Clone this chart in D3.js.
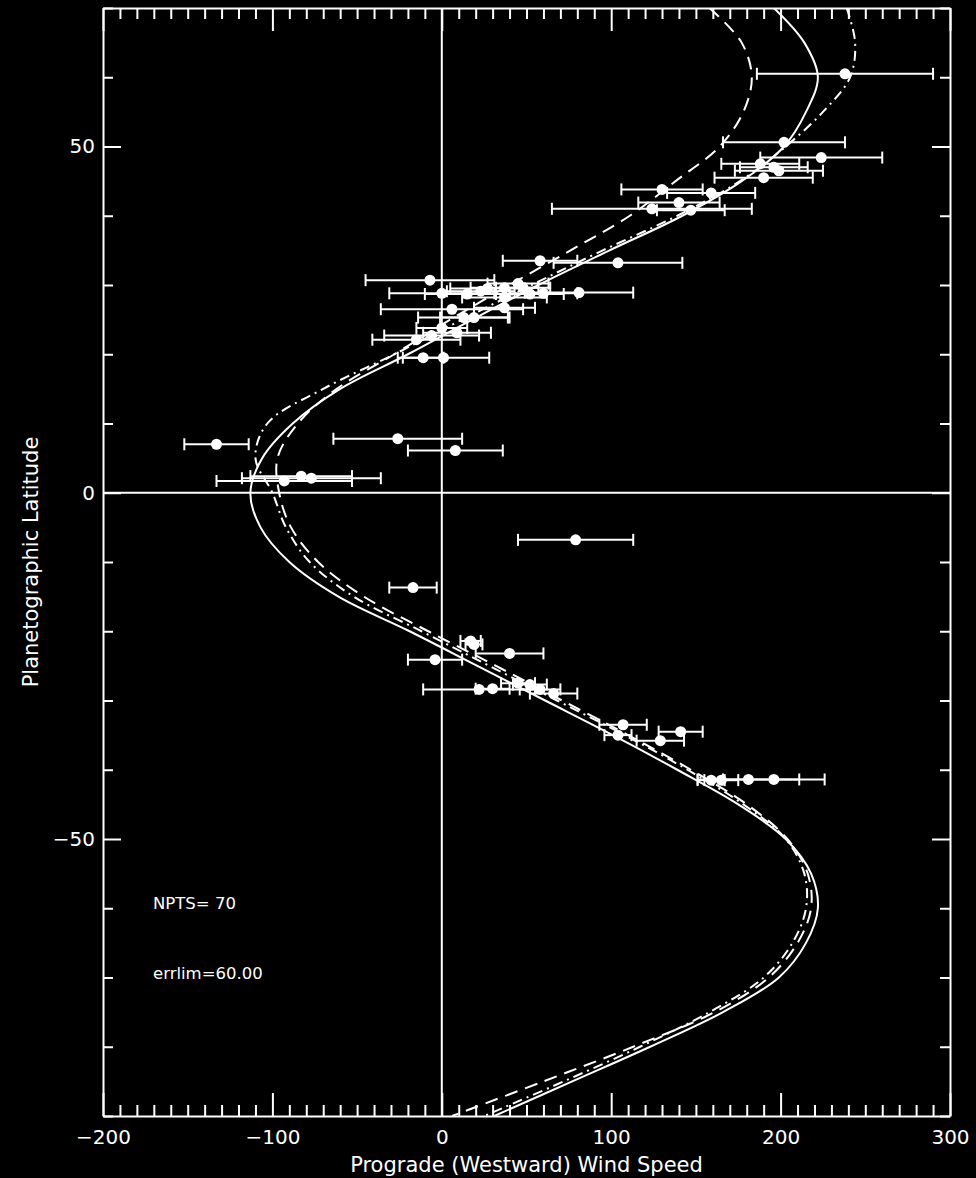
<!DOCTYPE html>
<html>
<head>
<meta charset="utf-8">
<script src="https://cdnjs.cloudflare.com/ajax/libs/d3/7.8.5/d3.min.js"></script>
<style>
  body { margin: 0; background: #000; }
  svg { display: block; background: #000; }
  .axis path, .axis line { stroke: #fff; stroke-width: 2; }
  .axis text { fill: #fff; font-family: "DejaVu Sans", sans-serif; font-size: 20px; }
  .label { fill: #fff; font-family: "DejaVu Sans", sans-serif; }
</style>
</head>
<body>
<script>
// measured wind points: latitude, westward speed and error half width
var pointLat = [60.5, 50.6, 48.4, 47.5, 46.5, 45.5, 47.0, 43.8, 43.3, 41.9, 41.0, 40.8,
  33.5, 33.2, 30.7, 28.9, 28.8, 28.8, 29.6, 30.2, 29.5, 26.7, 26.5, 25.3, 23.1, 22.7,
  22.1, 19.5, 19.5, 28.7, 29.1, 29.6, 28.7, 28.2, 25.3, 23.8,
  7.8, 6.1, 7.0, 2.1, 1.7, 2.4,
  -6.8, -13.7, -21.9, -21.4, -23.2, -24.1, -28.4, -28.3, -27.5, -27.7, -28.4, -29.0,
  -33.5, -35.0, -34.5, -35.8, -41.5, -41.5, -41.4, -41.4];
var pointWind = [238, 202, 224, 188, 199, 190, 196, 130, 159, 140, 124, 147,
  58, 104, -7, 81, 0, 60, 37, 45, 27, 37, 6, 13, 9, -6,
  -15, -11, 1, 15, 23, 48, 52, 37, 19, 0,
  -26, 8, -133, -77, -93, -83,
  79, -17, 19, 17, 40, -4, 22, 30, 45, 52, 58, 66,
  107, 104, 141, 129, 159, 165, 181, 196];
var pointErr = [52, 36, 36, 23, 26, 29, 20, 24, 26, 24, 59, 20,
  22, 38, 38, 32, 31, 20, 20, 18, 22, 18, 42, 27, 20, 28,
  26, 12, 27, 25, 20, 16, 20, 25, 20, 15,
  38, 28, 19, 41, 40, 30,
  34, 14, 5, 6, 20, 16, 33, 10, 10, 10, 12, 14,
  14, 8, 13, 14, 8, 10, 30, 30];

// fitted profiles, sampled every 5 degrees
var curveLat = [70, 65, 60, 55, 50, 45, 40, 35, 30, 25, 20, 15, 10, 5, 0, -5, -10, -15,
  -20, -25, -30, -35, -40, -45, -50, -55, -60, -65, -70, -75, -80, -85, -90];
var solidWind = [196, 214, 222, 215, 202, 177, 142, 99, 57, 18, -20, -60, -88, -106, -113, -107, -90, -61,
  -19, 21, 61, 101, 139, 175, 203, 218, 222, 215, 199, 166, 123, 77, 31];
var dashedWind = [158, 177, 183, 178, 164, 138, 111, 76, 40, 5, -28, -62, -85, -97, -96, -89, -73, -46,
  -8, 32, 71, 110, 147, 180, 204, 216, 218, 210, 193, 161, 113, 60, 6];
var dashDotWind = [239, 244, 241, 225, 203, 176, 139, 95, 53, 12, -28, -70, -103, -110, -100, -92, -78, -52,
  -12, 28, 68, 108, 145, 178, 203, 214, 215, 207, 190, 158, 117, 72, 25];

// tick values
var xTicks = d3.range(-200, 301, 10);
var xLabels = [-200, -100, 0, 100, 200, 300];
var yTicks = d3.range(-90, 71, 10);
var yLabels = [-50, 0, 50];

var totalWidth = 976;
var totalHeight = 1178;
var margin = {top: 8, right: 26, bottom: 62, left: 103};

var svg = d3.select("body").append("svg")
  .attr("width", totalWidth)
  .attr("height", totalHeight);

var xScale = d3.scaleLinear()
  .domain([-200, 300])
  .range([margin.left, totalWidth - margin.right]);

var yScale = d3.scaleLinear()
  .domain([-90, 70])
  .range([totalHeight - margin.bottom, margin.top]);

var plotLeft = xScale.range()[0], plotRight = xScale.range()[1];
var plotTop = yScale.range()[1], plotBottom = yScale.range()[0];

svg.append("clipPath").attr("id", "plot")
  .append("rect")
  .attr("x", plotLeft).attr("y", plotTop)
  .attr("width", plotRight - plotLeft).attr("height", plotBottom - plotTop);

// minor ticks every 10, longer ones on the labelled values
function isMajorX(d) { return d % 100 === 0; }
function isMajorY(d) { return d % 50 === 0; }

var bottomAxis = svg.append("g")
  .attr("class", "axis")
  .attr("transform", "translate(0," + plotBottom + ")")
  .call(d3.axisBottom(xScale).tickValues(xTicks).tickSize(-11).tickSizeOuter(0).tickPadding(14)
    .tickFormat(function(d) { return xLabels.indexOf(d) >= 0 ? d3.format("")(d) : ""; }));
bottomAxis.selectAll(".tick line").attr("y2", function(d) { return isMajorX(d) ? -23 : -11; });

var topAxis = svg.append("g")
  .attr("class", "axis")
  .attr("transform", "translate(0," + plotTop + ")")
  .call(d3.axisTop(xScale).tickValues(xTicks).tickSize(-11).tickSizeOuter(0).tickFormat(""));
topAxis.selectAll(".tick line").attr("y2", function(d) { return isMajorX(d) ? 23 : 11; });

var leftAxis = svg.append("g")
  .attr("class", "axis")
  .attr("transform", "translate(" + plotLeft + ",0)")
  .call(d3.axisLeft(yScale).tickValues(yTicks).tickSize(-10).tickSizeOuter(0).tickPadding(8)
    .tickFormat(function(d) { return yLabels.indexOf(d) >= 0 ? d3.format("")(d) : ""; }));
leftAxis.selectAll(".tick line").attr("x2", function(d) { return isMajorY(d) ? 18 : 10; });

var rightAxis = svg.append("g")
  .attr("class", "axis")
  .attr("transform", "translate(" + plotRight + ",0)")
  .call(d3.axisRight(yScale).tickValues(yTicks).tickSize(-10).tickSizeOuter(0).tickFormat(""));
rightAxis.selectAll(".tick line").attr("x2", function(d) { return isMajorY(d) ? -18 : -10; });

// zero lines
svg.append("line")
  .attr("x1", xScale(0)).attr("x2", xScale(0))
  .attr("y1", plotTop).attr("y2", plotBottom)
  .attr("stroke", "#fff").attr("stroke-width", 2);
svg.append("line")
  .attr("x1", plotLeft).attr("x2", plotRight)
  .attr("y1", yScale(0)).attr("y2", yScale(0))
  .attr("stroke", "#fff").attr("stroke-width", 2);

// model curves
var profiles = [
  {wind: solidWind, dash: null},
  {wind: dashedWind, dash: "13,8"},
  {wind: dashDotWind, dash: "10,5,2,5"}
];

var line = d3.line()
  .x(function(d) { return xScale(d[1]); })
  .y(function(d) { return yScale(d[0]); })
  .curve(d3.curveCatmullRom);

var curves = svg.append("g").attr("clip-path", "url(#plot)");
profiles.forEach(function(p) {
  curves.append("path")
    .datum(d3.zip(curveLat, p.wind))
    .attr("d", line)
    .attr("fill", "none")
    .attr("stroke", "#fff")
    .attr("stroke-width", 2)
    .attr("stroke-dasharray", p.dash);
});

// data points with error bars
var points = d3.range(pointLat.length).map(function(i) {
  return {lat: pointLat[i], u: pointWind[i], err: pointErr[i]};
});

var bars = svg.append("g").attr("clip-path", "url(#plot)")
  .selectAll("g")
  .data(points)
  .enter()
  .append("g")
  .attr("stroke", "#fff")
  .attr("stroke-width", 2);

bars.append("line")
  .attr("x1", function(d) { return xScale(d.u - d.err); })
  .attr("x2", function(d) { return xScale(d.u + d.err); })
  .attr("y1", function(d) { return yScale(d.lat); })
  .attr("y2", function(d) { return yScale(d.lat); });

bars.append("line")
  .attr("x1", function(d) { return xScale(d.u - d.err); })
  .attr("x2", function(d) { return xScale(d.u - d.err); })
  .attr("y1", function(d) { return yScale(d.lat) - 6; })
  .attr("y2", function(d) { return yScale(d.lat) + 6; });

bars.append("line")
  .attr("x1", function(d) { return xScale(d.u + d.err); })
  .attr("x2", function(d) { return xScale(d.u + d.err); })
  .attr("y1", function(d) { return yScale(d.lat) - 6; })
  .attr("y2", function(d) { return yScale(d.lat) + 6; });

bars.append("circle")
  .attr("cx", function(d) { return xScale(d.u); })
  .attr("cy", function(d) { return yScale(d.lat); })
  .attr("r", 5.5)
  .attr("fill", "#fff")
  .attr("stroke", "none");

// axis titles and notes
svg.append("text")
  .attr("class", "label")
  .attr("x", (plotLeft + plotRight) / 2)
  .attr("y", 1172)
  .attr("text-anchor", "middle")
  .style("font-size", "21px")
  .text("Prograde (Westward) Wind Speed");

svg.append("text")
  .attr("class", "label")
  .attr("transform", "translate(38," + (plotTop + plotBottom) / 2 + ") rotate(-90)")
  .attr("text-anchor", "middle")
  .style("font-size", "21px")
  .text("Planetographic Latitude");

svg.append("text")
  .attr("class", "label")
  .attr("x", 153)
  .attr("y", 909)
  .style("font-size", "16.5px")
  .text("NPTS=  70");

svg.append("text")
  .attr("class", "label")
  .attr("x", 153)
  .attr("y", 979)
  .style("font-size", "16.5px")
  .text("errlim=60.00");
</script>
</body>
</html>
